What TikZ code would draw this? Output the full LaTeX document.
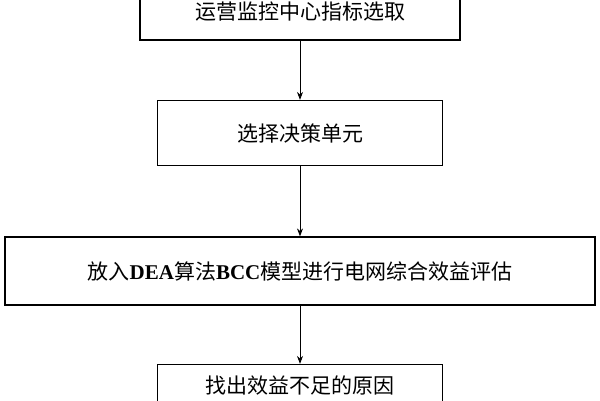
\documentclass[tikz,border=0pt]{standalone}
\usepackage{fontspec}
\setmainfont{Liberation Serif}
\newfontfamily\cjk{Noto Sans CJK SC}
\usetikzlibrary{arrows.meta}
\begin{document}
\begin{tikzpicture}[x=1pt,y=-1pt,
  box/.style={draw,line width=1.2pt,minimum height=65pt,inner sep=0pt,font=\cjk\fontsize{21}{23}\selectfont},
  arr/.style={-{Stealth[length=8pt,width=6pt]},line width=0.9pt}]
\useasboundingbox (0,0) rectangle (600,400);
\node[box,minimum width=320pt,minimum height=80pt] (a) at (300,0) {};
\node[font=\cjk\fontsize{21}{23}\selectfont] (at) at (300,12) {运营监控中心指标选取};
\node[box,minimum width=285pt] (b) at (300,133) {选择决策单元};
\node[box,minimum width=590pt,minimum height=68pt] (c) at (300,271) {放入{\rmfamily\bfseries DEA}算法{\rmfamily\bfseries BCC}模型进行电网综合效益评估};
\node[box,minimum width=285pt] (d) at (300,397) {};
\node[font=\cjk\fontsize{21}{23}\selectfont] (dt) at (300,386) {找出效益不足的原因};
\draw[arr] (a.south) -- (b.north);
\draw[arr] (b.south) -- (c.north);
\draw[arr] (c.south) -- (d.north);
\end{tikzpicture}
\end{document}
